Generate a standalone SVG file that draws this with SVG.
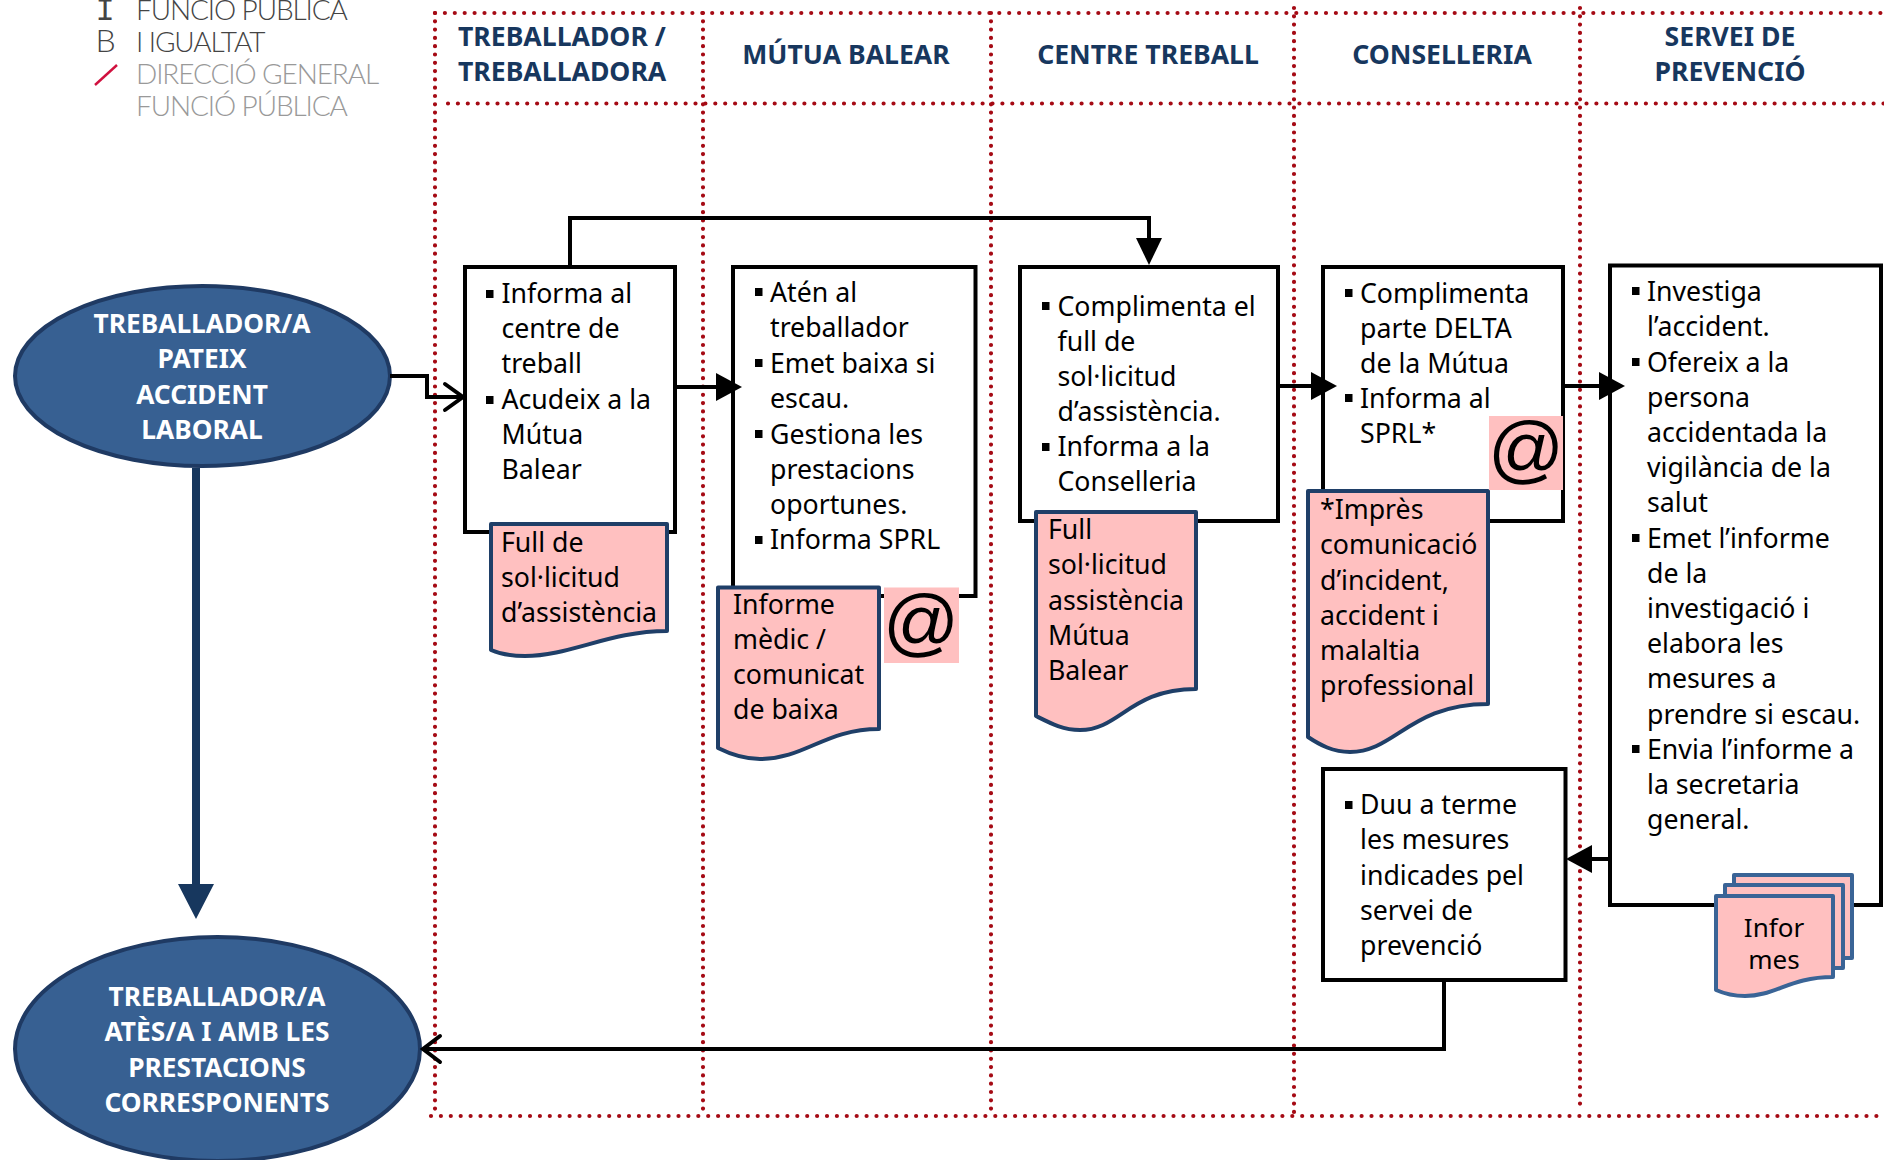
<svg xmlns="http://www.w3.org/2000/svg" width="1884" height="1160" viewBox="0 0 1884 1160">
<style>
text{font-family:"Noto Sans","Open Sans",sans-serif}
.t{font-size:26.7px;fill:#000}
.h{font-size:26.6px;font-weight:700;fill:#17375E}
.e{font-size:26.3px;font-weight:700;fill:#fff;text-anchor:middle}
.m{text-anchor:middle}
.box{fill:#fff;stroke:#000;stroke-width:4;stroke-linejoin:miter}
.doc{fill:#FFC0C0;stroke:#1F3F68;stroke-width:4;stroke-linejoin:round}
.doc2{fill:#FFC0C0;stroke:#3A6496;stroke-width:4;stroke-linejoin:round}
.oval{fill:#376092;stroke:#1F3A63;stroke-width:4}
.dot{fill:none;stroke:#A50A14;stroke-width:4.2;stroke-linecap:round}
.dh{stroke-dasharray:0 9.9}
.dv{stroke-dasharray:0 8.3}
.c{fill:none;stroke:#000;stroke-width:4}
.open{fill:none;stroke:#000;stroke-width:4;stroke-linecap:round}
.at{font-family:"Liberation Sans",Arial,sans-serif;font-size:75px;text-anchor:middle;fill:#000}
.lg{font-family:Lato,"Open Sans",sans-serif;font-size:28px;font-weight:300;letter-spacing:-1.1px}
</style>
<defs>
<rect id="b" width="7.5" height="8" fill="#000"/>
</defs>

<g id="logo">
<text x="105" y="20" text-anchor="middle" style="font-family:'Liberation Mono',monospace;font-size:32px;fill:#444">I</text>
<text x="105" y="52" text-anchor="middle" class="lg" style="font-size:32px;fill:#444">B</text>
<path d="M95,85 L117,65" stroke="#D0103E" stroke-width="2.4" fill="none"/>
<text x="136" y="20" class="lg" fill="#444">FUNCIÓ PÚBLICA</text>
<text x="136" y="52" class="lg" fill="#444">I IGUALTAT</text>
<text x="136" y="84" class="lg" fill="#999">DIRECCIÓ GENERAL</text>
<text x="136" y="116" class="lg" fill="#999">FUNCIÓ PÚBLICA</text>
</g>

<g id="swimlanes">
<path class="dot dh" d="M435,13 H1884"/>
<path class="dot dh" d="M448,103.5 H1884"/>
<path class="dot dh" d="M431,1116 H1884"/>
<path class="dot dv" d="M435,13 V1116"/>
<path class="dot dv" d="M703,13 V1116"/>
<path class="dot dv" d="M991,13 V1116"/>
<path class="dot dv" d="M1294,8 V1116"/>
<path class="dot dv" d="M1580,8 V1110"/>
</g>

<g id="headers">
<text class="h" x="458" y="46">TREBALLADOR /</text>
<text class="h" x="458" y="81">TREBALLADORA</text>
<text class="h m" x="846" y="64">MÚTUA BALEAR</text>
<text class="h m" x="1148" y="64">CENTRE TREBALL</text>
<text class="h m" x="1442" y="64">CONSELLERIA</text>
<text class="h m" x="1730" y="46">SERVEI DE</text>
<text class="h m" x="1730" y="81">PREVENCIÓ</text>
</g>

<g id="start">
<ellipse class="oval" cx="202.500" cy="376" rx="187.500" ry="90"/>
<text class="e" x="202" y="333">TREBALLADOR/A</text>
<text class="e" x="202" y="368">PATEIX</text>
<text class="e" x="202" y="404">ACCIDENT</text>
<text class="e" x="202" y="439">LABORAL</text>
</g>

<g id="end">
<ellipse class="oval" cx="217.500" cy="1049" rx="202.500" ry="112"/>
<text class="e" x="217" y="1006">TREBALLADOR/A</text>
<text class="e" x="217" y="1041">ATÈS/A I AMB LES</text>
<text class="e" x="217" y="1077">PRESTACIONS</text>
<text class="e" x="217" y="1112">CORRESPONENTS</text>
</g>

<g id="box-treballador">
<rect class="box" x="465" y="267" width="210" height="265"/>
<use href="#b" x="486" y="290"/><use href="#b" x="486" y="396"/>
<text class="t" x="501.500" y="303">Informa al</text>
<text class="t" x="501.500" y="338">centre de</text>
<text class="t" x="501.500" y="373">treball</text>
<text class="t" x="501.500" y="409">Acudeix a la</text>
<text class="t" x="501.500" y="444">Mútua</text>
<text class="t" x="501.500" y="479">Balear</text>
</g>
<g id="doc-full">
<path class="doc" d="M491,524 H667 V631 C610,631 570,656 525,656 C510,656 500,654 491,650 Z"/>
<text class="t" x="501" y="552">Full de</text>
<text class="t" x="501" y="587">sol·licitud</text>
<text class="t" x="501" y="622">d’assistència</text>
</g>

<g id="box-mutua">
<rect class="box" x="733" y="267" width="242.500" height="329"/>
<use href="#b" x="755" y="288"/><use href="#b" x="755" y="359"/><use href="#b" x="755" y="430"/><use href="#b" x="755" y="536"/>
<text class="t" x="770" y="302">Atén al</text>
<text class="t" x="770" y="337">treballador</text>
<text class="t" x="770" y="373">Emet baixa si</text>
<text class="t" x="770" y="408">escau.</text>
<text class="t" x="770" y="444">Gestiona les</text>
<text class="t" x="770" y="479">prestacions</text>
<text class="t" x="770" y="514">oportunes.</text>
<text class="t" x="770" y="549">Informa SPRL</text>
</g>
<g id="doc-informe">
<path class="doc" d="M718,587.500 H879 V729 C825,729 805,759 760,759 C745,759 732,755 718,748 Z"/>
<text class="t" x="733" y="614">Informe</text>
<text class="t" x="733" y="649">mèdic /</text>
<text class="t" x="733" y="684">comunicat</text>
<text class="t" x="733" y="719">de baixa</text>
</g>
<g id="at-mutua">
<rect x="884" y="587.500" width="75" height="75.500" fill="#FFC0C0"/>
<text class="at" x="921" y="647">@</text>
</g>

<g id="box-centre">
<rect class="box" x="1020" y="267" width="258" height="254"/>
<use href="#b" x="1042" y="302"/><use href="#b" x="1042" y="443"/>
<text class="t" x="1057.500" y="316">Complimenta el</text>
<text class="t" x="1057.500" y="351">full de</text>
<text class="t" x="1057.500" y="386">sol·licitud</text>
<text class="t" x="1057.500" y="421">d’assistència.</text>
<text class="t" x="1057.500" y="456">Informa a la</text>
<text class="t" x="1057.500" y="491">Conselleria</text>
</g>
<g id="doc-sollicitud">
<path class="doc" d="M1036,512 H1196 V689 C1130,689 1120,730 1080,730 C1063,730 1050,723 1036,716 Z"/>
<text class="t" x="1048" y="539">Full</text>
<text class="t" x="1048" y="574">sol·licitud</text>
<text class="t" x="1048" y="610">assistència</text>
<text class="t" x="1048" y="645">Mútua</text>
<text class="t" x="1048" y="680">Balear</text>
</g>

<g id="box-conselleria">
<rect class="box" x="1323" y="267" width="240" height="254"/>
<use href="#b" x="1345" y="289"/><use href="#b" x="1345" y="394"/>
<text class="t" x="1360" y="303">Complimenta</text>
<text class="t" x="1360" y="338">parte DELTA</text>
<text class="t" x="1360" y="373">de la Mútua</text>
<text class="t" x="1360" y="408">Informa al</text>
<text class="t" x="1360" y="443">SPRL*</text>
</g>
<g id="doc-impres">
<path class="doc" d="M1308,491 H1488 V704 C1410,704 1395,752 1350,752 C1333,752 1320,745 1308,737 Z"/>
<text class="t" x="1320" y="519">*Imprès</text>
<text class="t" x="1320" y="554">comunicació</text>
<text class="t" x="1320" y="590">d’incident,</text>
<text class="t" x="1320" y="625">accident i</text>
<text class="t" x="1320" y="660">malaltia</text>
<text class="t" x="1320" y="695">professional</text>
</g>
<g id="at-conselleria">
<rect x="1489" y="416" width="74" height="74" fill="#FFC0C0"/>
<text class="at" x="1526" y="474">@</text>
</g>

<g id="box-servei">
<rect class="box" x="1610" y="265.500" width="271" height="639.500"/>
<use href="#b" x="1632" y="287"/><use href="#b" x="1632" y="358"/><use href="#b" x="1632" y="534"/><use href="#b" x="1632" y="745"/>
<text class="t" x="1647" y="301">Investiga</text>
<text class="t" x="1647" y="336">l’accident.</text>
<text class="t" x="1647" y="372">Ofereix a la</text>
<text class="t" x="1647" y="407">persona</text>
<text class="t" x="1647" y="442">accidentada la</text>
<text class="t" x="1647" y="477">vigilància de la</text>
<text class="t" x="1647" y="512">salut</text>
<text class="t" x="1647" y="548">Emet l’informe</text>
<text class="t" x="1647" y="583">de la</text>
<text class="t" x="1647" y="618">investigació i</text>
<text class="t" x="1647" y="653">elabora les</text>
<text class="t" x="1647" y="688">mesures a</text>
<text class="t" x="1647" y="724">prendre si escau.</text>
<text class="t" x="1647" y="759">Envia l’informe a</text>
<text class="t" x="1647" y="794">la secretaria</text>
<text class="t" x="1647" y="829">general.</text>
</g>
<g id="doc-informes">
<path class="doc2" d="M1734,875 H1852 V958 H1838 V900 H1734 Z"/>
<path class="doc2" d="M1725,885 H1843 V968 H1828 V900 H1725 Z"/>
<path class="doc2" d="M1716,896 H1833 V977 C1790,977 1775,996 1745,996 C1735,996 1725,994 1716,990 Z"/>
<text class="t m" x="1774" y="937" style="font-size:26px">Infor</text>
<text class="t m" x="1774" y="969" style="font-size:26px">mes</text>
</g>

<g id="box-mesures">
<rect class="box" x="1323" y="769" width="242.500" height="211"/>
<use href="#b" x="1345" y="801"/>
<text class="t" x="1360" y="814">Duu a terme</text>
<text class="t" x="1360" y="849">les mesures</text>
<text class="t" x="1360" y="885">indicades pel</text>
<text class="t" x="1360" y="920">servei de</text>
<text class="t" x="1360" y="955">prevenció</text>
</g>

<g id="connectors">
<path class="c" d="M390,376 H427 V397 H461"/>
<path class="open" d="M445,384 L463,397 L445,410"/>
<path class="c" d="M677,387 H720"/>
<path d="M716,373 L742,387 L716,401 Z"/>
<path class="c" d="M1280,386 H1315"/>
<path d="M1311,372 L1337,386 L1311,400 Z"/>
<path class="c" d="M1565,386 H1602"/>
<path d="M1599,372 L1625,386 L1599,400 Z"/>
<path class="c" d="M1608,859 H1588"/>
<path d="M1592,845 L1566,859 L1592,873 Z"/>
<path class="c" d="M570,265 V218 H1149 V240"/>
<path d="M1136,238 L1149,265 L1162,238 Z"/>
<path d="M192,468 H200 V884 H214 L196,919 L178,884 H192 Z" fill="#17375E"/>
<path class="c" d="M1444,982 V1049 H424"/>
<path class="open" d="M440,1036 L423,1049 L440,1062"/>
</g>
</svg>
